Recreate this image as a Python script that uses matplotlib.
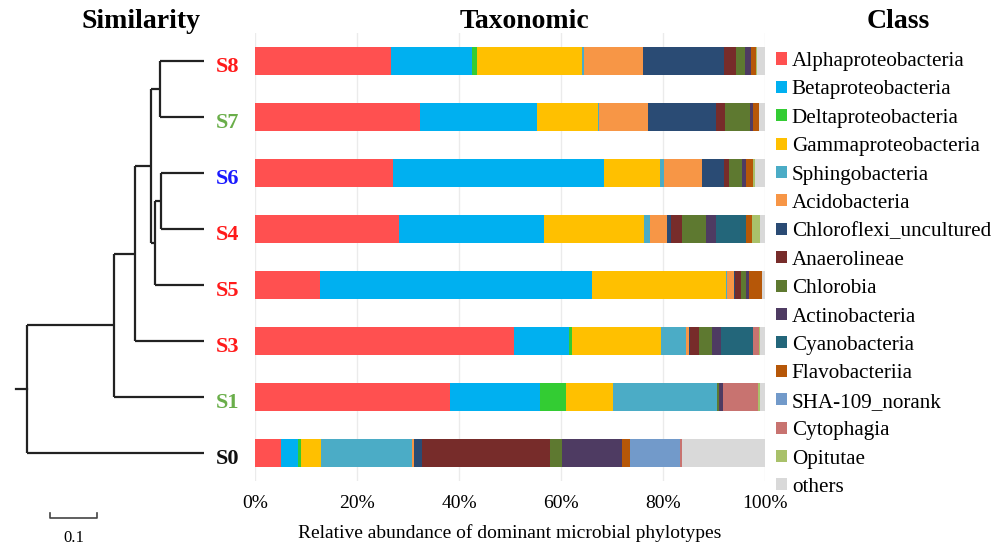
import numpy as np
import matplotlib
matplotlib.use("Agg")
import matplotlib.pyplot as plt
from matplotlib.patches import Patch

plt.rcParams['font.family'] = ['Liberation Serif', 'DejaVu Serif']

# samples, top to bottom
samples = ['S8', 'S7', 'S6', 'S4', 'S5', 'S3', 'S1', 'S0']
sample_colors = ['#FF1A1A', '#6AAE4A', '#1A1AFF', '#FF1A1A', '#FF1A1A', '#FF1A1A', '#6AAE4A', '#111111']

classes = ['Alphaproteobacteria', 'Betaproteobacteria', 'Deltaproteobacteria',
           'Gammaproteobacteria', 'Sphingobacteria', 'Acidobacteria',
           'Chloroflexi_uncultured', 'Anaerolineae', 'Chlorobia', 'Actinobacteria',
           'Cyanobacteria', 'Flavobacteriia', 'SHA-109_norank', 'Cytophagia',
           'Opitutae', 'others']
class_colors = ['#FF5050', '#00B0F0', '#33CC33', '#FFC000', '#4BACC6', '#F79646',
                '#2A4B74', '#772C2A', '#5E7930', '#4E3B62', '#23667A', '#B65708',
                '#729ACA', '#C87370', '#A9C16A', '#D9D9D9']

# relative abundance (%) per class, one list per sample (same order as samples)
S8 = [26.6, 15.9, 1.0, 20.7, 0.4, 11.4, 16.0, 2.3, 1.8, 1.2, 0.0, 1.0, 0.0, 0.0, 0.2, 1.5]
S7 = [32.4, 22.8, 0.0, 12.0, 0.3, 9.5, 13.4, 1.8, 4.9, 0.6, 0.0, 1.2, 0.0, 0.0, 0.0, 1.1]
S6 = [27.1, 41.3, 0.0, 11.1, 0.6, 7.5, 4.4, 1.0, 2.4, 0.9, 0.0, 1.3, 0.0, 0.0, 0.4, 2.0]
S4 = [28.2, 28.5, 0.0, 19.5, 1.2, 3.3, 0.8, 2.3, 4.6, 1.9, 5.9, 1.2, 0.0, 0.0, 1.6, 1.0]
S5 = [12.7, 53.4, 0.0, 26.2, 0.3, 1.3, 0.3, 1.1, 1.0, 0.6, 0.0, 2.6, 0.0, 0.0, 0.0, 0.5]
S3 = [50.7, 10.9, 0.6, 17.4, 5.0, 0.5, 0.1, 1.9, 2.5, 1.7, 6.3, 0.0, 0.0, 1.2, 0.3, 0.9]
S1 = [38.2, 17.6, 5.1, 9.2, 20.4, 0.0, 0.0, 0.0, 0.5, 0.8, 0.0, 0.0, 0.0, 6.9, 0.3, 1.0]
S0 = [5.1, 3.4, 0.5, 4.0, 17.7, 0.5, 1.5, 25.1, 2.3, 11.8, 0.0, 1.6, 9.8, 0.5, 0.0, 16.2]
abundance = np.array([S8, S7, S6, S4, S5, S3, S1, S0])

# clustering tree: (left, right, height); leaves are sample names
n87 = ('S8', 'S7', 0.094)
n64 = ('S6', 'S4', 0.091)
n645 = (n64, 'S5', 0.104)
n87645 = (n87, n645, 0.113)
n3 = (n87645, 'S3', 0.147)
n1 = (n3, 'S1', 0.192)
tree = (n1, 'S0', 0.377)
root_stub = 0.023

W, H = 1005, 547
fig = plt.figure(figsize=(W / 100, H / 100), dpi=100)

ax_top, ax_bot = 33, 481
ax = fig.add_axes([255 / W, 1 - ax_bot / H, 510 / W, (ax_bot - ax_top) / H])
axt = fig.add_axes([0, 1 - ax_bot / H, 204 / W, (ax_bot - ax_top) / H])

# stacked bars
ypos = np.arange(len(samples))
left = np.zeros(len(samples))
for j, (name, col) in enumerate(zip(classes, class_colors)):
    vals = abundance[:, j]
    ax.barh(ypos, vals, left=left, height=0.5, color=col, edgecolor='none', zorder=2)
    left += vals

ax.set_xlim(0, 100)
ax.set_ylim(len(samples) - 0.5, -0.5)
ax.set_xticks(np.arange(0, 101, 20))
ax.set_xticklabels([f'{v}%' for v in range(0, 101, 20)], fontsize=14)
ax.set_yticks([])
ax.tick_params(axis='x', length=0, pad=10)
ax.grid(axis='x', color='#EBEBEB', linewidth=1, zorder=0)
for s in ax.spines.values():
    s.set_visible(False)
ax.set_xlabel('Relative abundance of dominant microbial phylotypes', fontsize=14, labelpad=9)

# dendrogram
lw = 1.6
lc = '#222222'
leaf_y = {s: i for i, s in enumerate(samples)}


def draw(node):
    if isinstance(node, str):
        return leaf_y[node], 0.0
    a, b, h = node
    ya, ha = draw(a)
    yb, hb = draw(b)
    axt.plot([h, h], [ya, yb], color=lc, lw=lw, solid_capstyle='butt')
    axt.plot([ha, h], [ya, ya], color=lc, lw=lw, solid_capstyle='butt')
    axt.plot([hb, h], [yb, yb], color=lc, lw=lw, solid_capstyle='butt')
    return (ya + yb) / 2, h


ry, rh = draw(tree)
axt.plot([rh, rh + root_stub], [ry, ry], color=lc, lw=lw)
axt.set_xlim(204 / 470, 0)
axt.set_ylim(len(samples) - 0.5, -0.5)
axt.axis('off')

for s, c in zip(samples, sample_colors):
    axt.text(-0.025, leaf_y[s] + 0.11, s, color=c, fontsize=16, fontweight='bold',
             ha='left', va='center', clip_on=False)

# scale bar
sb_x, sb_y = 0.328, 8.16
axt.plot([sb_x, sb_x, sb_x - 0.1, sb_x - 0.1], [sb_y - 0.08, sb_y, sb_y, sb_y - 0.08],
         color='#444444', lw=1.2, clip_on=False)
axt.text(sb_x - 0.05, sb_y + 0.36, '0.1', fontsize=12, ha='center', va='center', clip_on=False)

# legend
handles = [Patch(facecolor=c, edgecolor='none') for c in class_colors]
fig.legend(handles, classes, loc='upper left', bbox_to_anchor=(776 / W, 1 - 52 / H),
           frameon=False, fontsize=15.2, handlelength=0.5, handleheight=0.5,
           handletextpad=0.25, labelspacing=0.445, borderaxespad=0, borderpad=0)

# column headers
fig.text(141 / W, 1 - 21 / H, 'Similarity', fontsize=20, fontweight='bold', ha='center', va='center')
fig.text(525 / W, 1 - 21 / H, 'Taxonomic', fontsize=20, fontweight='bold', ha='center', va='center')
fig.text(898 / W, 1 - 22 / H, 'Class', fontsize=20, fontweight='bold', ha='center', va='center')

fig.savefig('out.png', dpi=100)
